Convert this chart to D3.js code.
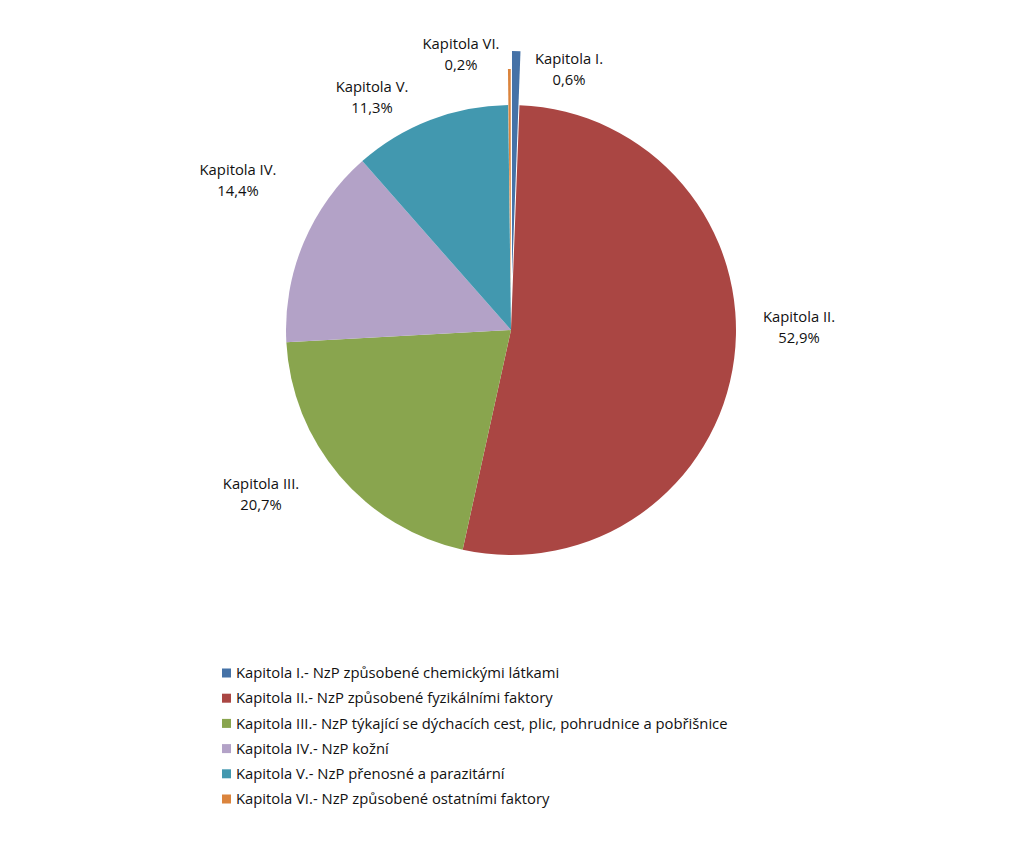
<!DOCTYPE html>
<html>
<head>
<meta charset="utf-8">
<script src="https://cdn.jsdelivr.net/npm/d3@7"></script>
<style>
  html, body { margin: 0; padding: 0; background: #fff; }
  svg { display: block; }
  text { font-family: "Open Sans", "Noto Sans", sans-serif; fill: #111; }
</style>
</head>
<body>
<svg id="chart" width="1023" height="849"></svg>
<script>
// ---- data ----
const categories = ["Kapitola I.", "Kapitola II.", "Kapitola III.", "Kapitola IV.", "Kapitola V.", "Kapitola VI."];
const legendLabels = [
  "Kapitola I.- NzP způsobené chemickými látkami",
  "Kapitola II.- NzP způsobené fyzikálními faktory",
  "Kapitola III.- NzP týkající se dýchacích cest, plic, pohrudnice a pobřišnice",
  "Kapitola IV.- NzP kožní",
  "Kapitola V.- NzP přenosné a parazitární",
  "Kapitola VI.- NzP způsobené ostatními faktory"
];
const values = [0.6, 52.9, 20.7, 14.4, 11.3, 0.2];
const valueLabels = ["0,6%", "52,9%", "20,7%", "14,4%", "11,3%", "0,2%"];
const colors = ["#4572A7", "#AA4643", "#89A54E", "#B3A2C7", "#4298AF", "#DB843D"];

// ---- layout ----
const cx = 511, cy = 330, R = 225;
const explode = [54, 0, 0, 0, 0, 36];
// label offsets (line 1 centre) relative to pie centre
const labelOffsets = [[58, -271], [288, -13], [-250, 154], [-273, -160], [-139, -243], [-50, -286]];
const lineGap = 20.5;

const svg = d3.select("#chart");
const g = svg.append("g").attr("transform", `translate(${cx},${cy})`);

const pie = d3.pie().sort(null).value(d => d)(values);
const arc = d3.arc().innerRadius(0).outerRadius(R);

g.selectAll("path.slice").data(pie).join("path")
  .attr("class", "slice")
  .attr("d", arc)
  .attr("fill", (d, i) => colors[i])
  .attr("transform", (d, i) => {
    const a = (d.startAngle + d.endAngle) / 2;
    return `translate(${explode[i] * Math.sin(a)},${-explode[i] * Math.cos(a)})`;
  });

const fs = 14.8;
const lbl = g.selectAll("g.lbl").data(pie).join("g").attr("class", "lbl")
  .attr("transform", (d, i) => `translate(${labelOffsets[i][0]},${labelOffsets[i][1]})`);
lbl.append("text").attr("text-anchor", "middle").attr("dy", "0.35em")
  .style("font-size", fs + "px").text((d, i) => categories[i]);
lbl.append("text").attr("text-anchor", "middle").attr("y", lineGap).attr("dy", "0.35em")
  .style("font-size", fs + "px").text((d, i) => valueLabels[i]);

// ---- legend ----
const legY0 = 673, legStep = 25.2, legX = 222;
const leg = svg.append("g").selectAll("g").data(legendLabels).join("g")
  .attr("transform", (d, i) => `translate(${legX},${legY0 + i * legStep})`);
leg.append("rect").attr("x", 0).attr("y", -4.5).attr("width", 9).attr("height", 9)
  .attr("fill", (d, i) => colors[i]);
leg.append("text").attr("x", 14).attr("dy", "0.35em").style("font-size", fs + "px").text(d => d);
</script>
</body>
</html>
